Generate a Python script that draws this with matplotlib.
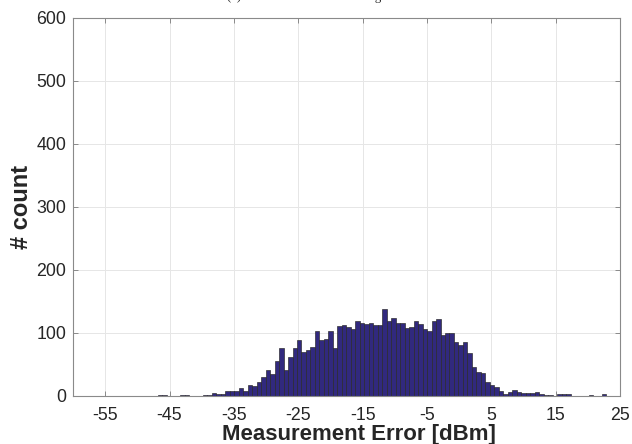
#!/usr/bin/env python3
"""
Histogram of the measurement error (100 equal-width bins).

Output:
  out.png
"""

from __future__ import annotations

import numpy as np
import matplotlib

matplotlib.use("Agg")
import matplotlib.pyplot as plt

# Bin range of the error values [dBm]; 100 equal bins between them.
BIN_MIN = -46.8
BIN_MAX = 22.9

# Counts per bin, left to right.
COUNTS = [
    1, 1, 0, 0, 0, 1, 1, 0, 0, 0,
    1, 1, 4, 2, 3, 7, 7, 7, 12, 8,
    17, 16, 22, 29, 41, 34, 55, 75, 41, 62,
    75, 88, 69, 72, 77, 102, 88, 90, 103, 76,
    111, 112, 109, 105, 118, 116, 113, 115, 112, 112,
    138, 118, 123, 115, 115, 107, 109, 118, 113, 105,
    102, 118, 122, 96, 100, 100, 85, 80, 85, 67,
    45, 37, 36, 21, 17, 14, 7, 3, 5, 9,
    5, 4, 4, 4, 6, 3, 1, 1, 0, 3,
    3, 3, 0, 0, 0, 0, 1, 0, 0, 2,
]

X_TICKS = [-55, -45, -35, -25, -15, -5, 5, 15, 25]
Y_TICKS = [0, 100, 200, 300, 400, 500, 600]

TITLE = "(a) Measurement Error Histogram"
X_LABEL = "Measurement Error [dBm]"
Y_LABEL = "# count"


def plot_hist() -> plt.Figure:
    plt.rcParams["font.family"] = ["Liberation Sans", "DejaVu Sans"]
    plt.rcParams["axes.unicode_minus"] = False

    fig = plt.figure(figsize=(6.32, 4.44), dpi=100)
    ax = fig.add_axes([0.1155, 0.109, 0.8655, 0.851])

    edges = np.linspace(BIN_MIN, BIN_MAX, len(COUNTS) + 1)
    ax.bar(edges[:-1], COUNTS, width=np.diff(edges), align="edge",
           color="#31297e", edgecolor="#262626", linewidth=0.45, zorder=2)

    ax.set_xlim(-60, 25)
    ax.set_ylim(0, 600)
    ax.set_xticks(X_TICKS)
    ax.set_yticks(Y_TICKS)

    ax.grid(True, color="#e6e6e6", linewidth=0.7, zorder=0)
    ax.set_axisbelow(True)
    for sp in ax.spines.values():
        sp.set_color("#8a8a8a")
        sp.set_linewidth(0.8)
        sp.set_zorder(3)

    ax.tick_params(direction="in", length=3.5, width=0.7, color="#8a8a8a",
                   labelsize=12.8, labelcolor="#262626",
                   top=True, right=True)
    ax.tick_params(axis="x", pad=8)
    ax.tick_params(axis="y", pad=5)

    ax.set_xlabel(X_LABEL, fontsize=16, fontweight="bold", color="#262626")
    ax.xaxis.set_label_coords(0.522, -0.075)
    ax.set_ylabel(Y_LABEL, fontsize=17, fontweight="bold", color="#262626")
    ax.yaxis.set_label_coords(-0.073, 0.5)

    # title sits above the top edge, only its descenders show
    fig.text(227 / 632, 1.0, TITLE, ha="left", va="baseline",
             fontsize=9.2, family="Liberation Serif", color="#262626")
    return fig


def main() -> None:
    fig = plot_hist()
    fig.savefig("out.png", dpi=100)
    plt.close(fig)


if __name__ == "__main__":
    main()
